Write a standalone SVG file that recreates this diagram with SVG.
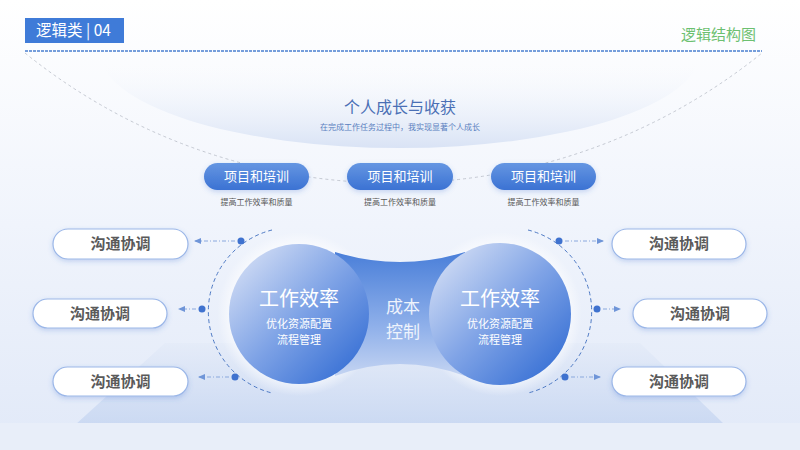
<svg xmlns="http://www.w3.org/2000/svg" width="800" height="450" viewBox="0 0 800 450">
<defs>
<linearGradient id="bg" x1="0" y1="0" x2="0" y2="1"><stop offset="0" stop-color="#ffffff"/><stop offset="0.5" stop-color="#f0f4fc"/><stop offset="1" stop-color="#e1e9f8"/></linearGradient>
<linearGradient id="arcfill" x1="0" y1="0" x2="0" y2="1"><stop offset="0" stop-color="#ffffff" stop-opacity="0"/><stop offset="1" stop-color="#d9e3f5"/></linearGradient>
<linearGradient id="plat" x1="0" y1="0" x2="0" y2="1"><stop offset="0" stop-color="#e4ebf8"/><stop offset="1" stop-color="#c5d5f1"/></linearGradient>
<linearGradient id="pill" x1="0" y1="0" x2="0" y2="1"><stop offset="0" stop-color="#6596e2"/><stop offset="1" stop-color="#3b72d3"/></linearGradient>
<linearGradient id="ball" x1="0.15" y1="0.1" x2="0.9" y2="0.85"><stop offset="0" stop-color="#c9d7f3"/><stop offset="0.5" stop-color="#7fa3e6"/><stop offset="1" stop-color="#3d74d6"/></linearGradient>
<linearGradient id="bridge" x1="0" y1="0" x2="0" y2="1"><stop offset="0" stop-color="#4a7fd9"/><stop offset="0.6" stop-color="#8fb0ea"/><stop offset="1" stop-color="#c4d4f2"/></linearGradient>
<radialGradient id="glow"><stop offset="0.75" stop-color="#ffffff" stop-opacity="0.9"/><stop offset="1" stop-color="#ffffff" stop-opacity="0"/></radialGradient>
<filter id="sh" x="-20%" y="-40%" width="140%" height="200%"><feDropShadow dx="0" dy="2" stdDeviation="2.5" flood-color="#3b6fcf" flood-opacity="0.25"/></filter>
<marker id="ah" markerWidth="8" markerHeight="8" refX="6" refY="4" orient="auto" markerUnits="userSpaceOnUse"><path d="M0,1 L7,4 L0,7 Z" fill="#6f95d8"/></marker>
<style>
.cj{font-family:"Noto Sans CJK SC","Noto Sans",sans-serif}
.w{fill:#ffffff}
.pt{font-size:13px;fill:#ffffff}
.ps{font-size:8px;fill:#555555}
.gp{fill:#ffffff;stroke:#9bb7e8;stroke-width:1.2;filter:url(#sh)}
.gt{font-size:15px;font-weight:bold;fill:#5a5a5a}
.dl{fill:none;stroke:#4d79c4;stroke-width:1;stroke-dasharray:4 3}
.ar{fill:none;stroke:#8aa8dd;stroke-width:1;stroke-dasharray:4 2 1 2;marker-end:url(#ah)}
.dot{fill:#3f72cf}
</style>
</defs>
<rect width="800" height="450" fill="url(#bg)"/>
<path d="M165,343 L640,343 L725,425 L75,425 Z" fill="url(#plat)" opacity="0.8"/>
<rect x="0" y="423" width="800" height="27" fill="#e8eef9"/>
<path d="M100,52 A300,96 0 0 0 700,52 Z" fill="url(#arcfill)"/>
<path d="M25,53 A587,587 0 0 0 762,53" fill="none" stroke="#b8bcc6" stroke-width="0.8" stroke-dasharray="3 3"/>
<g id="header">
<rect x="25" y="18" width="99" height="25" fill="#3f7bd8"/>
<text x="36" y="36" class="cj" font-size="15.5" fill="#ffffff">逻辑类 | 04</text>
<line x1="25" y1="51" x2="762" y2="51" stroke="#4a7fd0" stroke-width="1.5" stroke-dasharray="3 1"/>
<text x="756" y="40" class="cj" font-size="15" fill="#6cc070" text-anchor="end">逻辑结构图</text>
</g>
<g id="title">
<text x="400" y="113" class="cj" font-size="16" fill="#4a6fb5" text-anchor="middle">个人成长与收获</text>
<text x="400" y="130" class="cj" font-size="8" fill="#5a7fc0" text-anchor="middle">在完成工作任务过程中，我实现显著个人成长</text>
</g>
<g id="pill1"><rect x="204" y="163" width="105" height="27" rx="13.5" fill="url(#pill)" filter="url(#sh)"/><text x="256.5" y="181" class="cj pt" text-anchor="middle">项目和培训</text><text x="256.5" y="205" class="cj ps" text-anchor="middle">提高工作效率和质量</text></g>
<g id="pill2"><rect x="347" y="163" width="106" height="27" rx="13.5" fill="url(#pill)" filter="url(#sh)"/><text x="400" y="181" class="cj pt" text-anchor="middle">项目和培训</text><text x="400" y="205" class="cj ps" text-anchor="middle">提高工作效率和质量</text></g>
<g id="pill3"><rect x="491" y="163" width="105" height="27" rx="13.5" fill="url(#pill)" filter="url(#sh)"/><text x="543.5" y="181" class="cj pt" text-anchor="middle">项目和培训</text><text x="543.5" y="205" class="cj ps" text-anchor="middle">提高工作效率和质量</text></g>
<g id="center">
<circle cx="299" cy="314" r="82" fill="url(#glow)"/>
<circle cx="500" cy="314" r="82" fill="url(#glow)"/>
<path d="M335,252 Q400,272 465,252 L465,376 Q400,352 335,376 Z" fill="url(#bridge)"/>
<circle cx="299" cy="314" r="70" fill="url(#ball)"/>
<circle cx="500" cy="314" r="71" fill="url(#ball)"/>
<text x="299" y="306" class="cj w" font-size="20" text-anchor="middle">工作效率</text>
<text class="cj w" font-size="11" text-anchor="middle"><tspan x="299" y="328">优化资源配置</tspan><tspan x="299" y="344">流程管理</tspan></text>
<text x="500" y="306" class="cj w" font-size="20" text-anchor="middle">工作效率</text>
<text class="cj w" font-size="11" text-anchor="middle"><tspan x="500" y="328">优化资源配置</tspan><tspan x="500" y="344">流程管理</tspan></text>
<text class="cj" font-size="17" fill="#eef3fc" text-anchor="middle"><tspan x="403" y="313">成本</tspan><tspan x="403" y="338">控制</tspan></text>
</g>
<g id="connectors">
<path class="dl" d="M272,230 A84,84 0 0 0 272,393"/>
<path class="dl" d="M528,230 A84,84 0 0 1 528,393"/>
<circle class="dot" cx="241" cy="241" r="3.5"/>
<circle class="dot" cx="202" cy="309" r="3.5"/>
<circle class="dot" cx="235" cy="377" r="3.5"/>
<circle class="dot" cx="559" cy="241" r="3.5"/>
<circle class="dot" cx="597" cy="309" r="3.5"/>
<circle class="dot" cx="565" cy="377" r="3.5"/>
<line class="ar" x1="235" y1="241" x2="195" y2="241"/>
<line class="ar" x1="196" y1="309" x2="179" y2="309"/>
<line class="ar" x1="229" y1="377" x2="199" y2="377"/>
<line class="ar" x1="565" y1="241" x2="603" y2="241"/>
<line class="ar" x1="603" y1="309" x2="620" y2="309"/>
<line class="ar" x1="571" y1="377" x2="600" y2="377"/>
</g>
<g id="l1"><rect class="gp" x="53" y="229" width="135" height="30" rx="15"/><text x="120.5" y="249" class="cj gt" text-anchor="middle">沟通协调</text></g>
<g id="l2"><rect class="gp" x="33" y="299" width="134" height="29" rx="14.5"/><text x="100" y="319" class="cj gt" text-anchor="middle">沟通协调</text></g>
<g id="l3"><rect class="gp" x="53" y="367" width="135" height="29" rx="14.5"/><text x="120.5" y="387" class="cj gt" text-anchor="middle">沟通协调</text></g>
<g id="r1"><rect class="gp" x="612" y="229" width="134" height="30" rx="15"/><text x="679" y="249" class="cj gt" text-anchor="middle">沟通协调</text></g>
<g id="r2"><rect class="gp" x="633" y="299" width="134" height="29" rx="14.5"/><text x="700" y="319" class="cj gt" text-anchor="middle">沟通协调</text></g>
<g id="r3"><rect class="gp" x="612" y="367" width="134" height="29" rx="14.5"/><text x="679" y="387" class="cj gt" text-anchor="middle">沟通协调</text></g>
</svg>
